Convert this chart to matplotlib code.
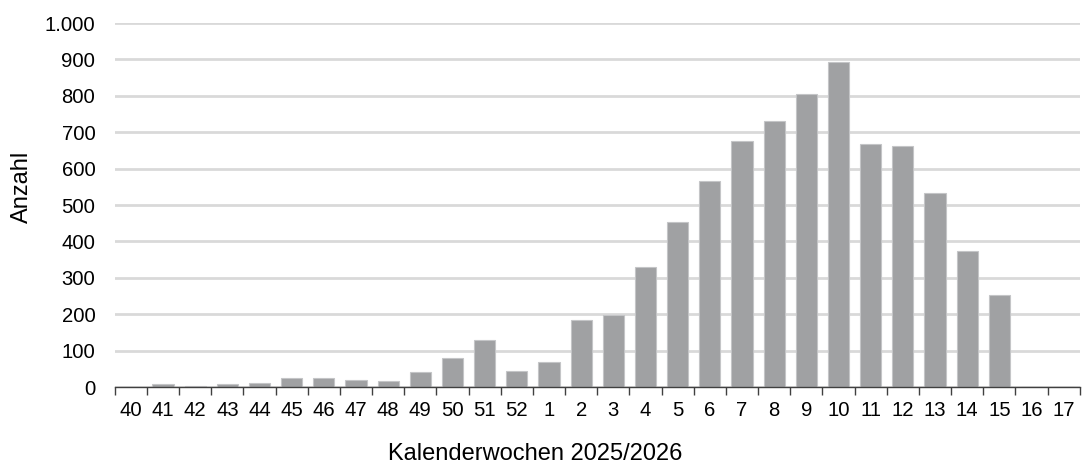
import matplotlib.pyplot as plt
import numpy as np

# Daten: Kalenderwochen 40/2025 bis 17/2026
wochen = ["40", "41", "42", "43", "44", "45", "46", "47", "48", "49", "50", "51", "52",
          "1", "2", "3", "4", "5", "6", "7", "8", "9", "10", "11", "12", "13", "14", "15", "16", "17"]
anzahl = [1, 7, 2, 8, 11, 24, 25, 20, 16, 41, 81, 128, 44,
          69, 183, 198, 331, 454, 565, 676, 730, 806, 892, 669, 661, 532, 374, 252, 0, 0]
y_ticks = [0, 100, 200, 300, 400, 500, 600, 700, 800, 900, 1000]
y_labels = ["0", "100", "200", "300", "400", "500", "600", "700", "800", "900", "1.000"]

plt.rcParams["font.family"] = ["Liberation Sans", "DejaVu Sans"]
fs = 14.6      # Achsenbeschriftungen
fs_title = 17  # Achsentitel

fig = plt.figure(figsize=(10.83, 4.66), dpi=100)
ax = fig.add_axes([0.106, 0.1695, 0.891, 0.7811])

x = np.arange(len(wochen))
ax.bar(x, anzahl, width=0.66, color="#a0a1a3", edgecolor="#c4c5c7", linewidth=0.8, zorder=3)

ax.set_xlim(-0.5, len(wochen) - 0.5)
ax.set_ylim(0, 1000)

# Ticks an den Kategoriegrenzen, Beschriftung in der Mitte
ax.set_xticks(np.arange(-0.5, len(wochen) + 0.5, 1))
ax.set_xticklabels([])
ax.tick_params(axis="x", which="major", length=6, width=1, color="#404040", direction="out")
ax.set_xticks(x, minor=True)
ax.set_xticklabels(wochen, minor=True, fontsize=fs)
ax.tick_params(axis="x", which="minor", length=0, pad=10)

ax.set_yticks(y_ticks)
ax.set_yticklabels(y_labels, fontsize=fs)
ax.tick_params(axis="y", length=0, pad=14)
ax.grid(axis="y", color="#d9d9d9", linewidth=2, zorder=0)

for s in ["top", "right", "left"]:
    ax.spines[s].set_visible(False)
ax.spines["bottom"].set_color("#404040")
ax.spines["bottom"].set_linewidth(1)
ax.spines["bottom"].set_zorder(4)

ax.set_xlabel("Kalenderwochen 2025/2026", fontsize=fs_title)
ax.xaxis.set_label_coords(0.436, -0.155)
ax.set_ylabel("Anzahl", fontsize=fs_title)
ax.yaxis.set_label_coords(-0.085, 0.55)

fig.savefig("out.png", dpi=100)
